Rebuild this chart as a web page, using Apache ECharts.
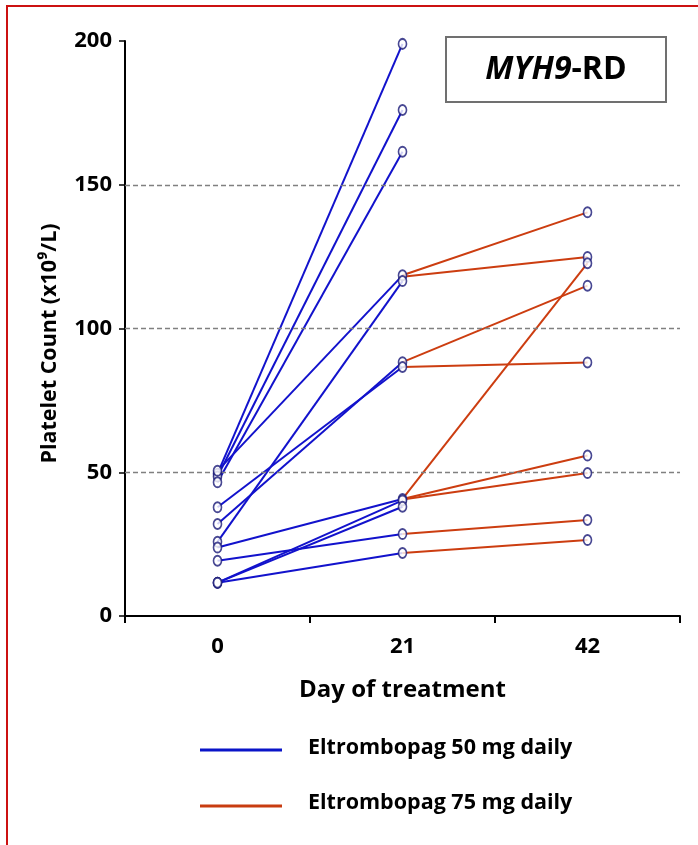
<!DOCTYPE html>
<html>
<head>
<meta charset="utf-8">
<script src="https://cdn.jsdelivr.net/npm/echarts@6/dist/echarts.min.js"></script>
<style>
  html, body { margin: 0; padding: 0; background: #fff; }
  #chart { width: 698px; height: 845px; }
</style>
</head>
<body>
<div id="chart"></div>
<script>
// days on the x axis
var days = ['0', '21', '42'];
var yTicks = [0, 50, 100, 150, 200];
var refLines = [50, 100, 150];

// 50 mg daily: day 0 -> day 21 (one entry per patient)
var dose50Day0 = [49.5, 48.5, 46.5, 50.5, 25.8, 32, 37.8, 23.8, 11.6, 11.6, 19.2, 11.6];
var dose50Day21 = [199, 176, 161.5, 118.5, 116.5, 88.3, 86.6, 40.7, 40.2, 38, 28.5, 21.9];

// 75 mg daily: day 21 -> day 42
var dose75Day21 = [118.5, 118, 88.3, 86.6, 40.7, 40.7, 40.5, 28.5, 21.9];
var dose75Day42 = [140.4, 124.9, 114.9, 88.2, 122.7, 55.8, 49.7, 33.4, 26.4];

var BLUE = '#1212cc';
var ORANGE = '#cc3d10';
var FONT = 'Open Sans';

var series = [];
dose50Day0.forEach(function (v, i) {
    series.push({
        type: 'line', showSymbol: false, silent: true, z: 2,
        lineStyle: { color: BLUE, width: 2 },
        data: [v, dose50Day21[i], '-']
    });
});
dose75Day21.forEach(function (v, i) {
    series.push({
        type: 'line', showSymbol: false, silent: true, z: 2,
        lineStyle: { color: ORANGE, width: 2 },
        data: ['-', v, dose75Day42[i]]
    });
});

// markers on top of the lines
var points = [];
dose50Day0.forEach(function (v) { points.push([0, v]); });
dose50Day21.forEach(function (v) { points.push([1, v]); });
dose75Day42.forEach(function (v) { points.push([2, v]); });
series.push({
    type: 'scatter', z: 5,
    symbol: 'circle', symbolSize: [8, 10],
    itemStyle: { color: '#fff', borderColor: '#1a1a78', borderWidth: 1.8 },
    data: points
});

// dashed reference lines
series[0].markLine = {
    silent: true, symbol: 'none', label: { show: false },
    lineStyle: { color: '#808080', type: [5, 3], width: 1.3 },
    data: refLines.map(function (v) { return { yAxis: v }; })
};

var myChart = echarts.init(document.getElementById('chart'));
var option = {
    animation: false,
    grid: { left: 125, right: 18, top: 41, bottom: 229 },
    xAxis: {
        type: 'category',
        data: days,
        boundaryGap: true,
        name: 'Day of treatment',
        nameLocation: 'middle',
        nameGap: 62,
        nameTextStyle: { fontFamily: FONT, fontWeight: 'bold', fontSize: 24, color: '#000', padding: [0, 0, 0, 0] },
        axisLine: { lineStyle: { color: '#000', width: 2 } },
        axisTick: { show: true, length: 7, lineStyle: { color: '#000', width: 2 } },
        axisLabel: { margin: 20, fontFamily: FONT, fontWeight: 'bold', fontSize: 22, color: '#000' },
        splitLine: { show: false }
    },
    yAxis: {
        type: 'value',
        min: yTicks[0],
        max: yTicks[yTicks.length - 1],
        interval: 50,
        name: 'Platelet Count (x10⁹/L)',
        nameLocation: 'middle',
        nameGap: 64,
        nameTextStyle: { fontFamily: FONT, fontWeight: 'bold', fontSize: 21.5, color: '#000', padding: [0, 30, 0, 0] },
        axisLine: { show: true, lineStyle: { color: '#000', width: 2 } },
        axisTick: { show: true, length: 6, lineStyle: { color: '#000', width: 1.5 } },
        axisLabel: { margin: 13, fontFamily: FONT, fontWeight: 'bold', fontSize: 22, color: '#000' },
        splitLine: { show: false }
    },
    graphic: [
        {
            type: 'rect', z: 0, silent: true,
            shape: { x: 7, y: 6, width: 800, height: 900 },
            style: { fill: 'none', stroke: '#cc1111', lineWidth: 2 }
        },
        {
            type: 'rect', z: 10,
            shape: { x: 446, y: 37, width: 220, height: 65 },
            style: { fill: '#fff', stroke: '#707070', lineWidth: 2 }
        },
        {
            type: 'text', z: 11, x: 556, y: 70,
            style: {
                text: '{i|MYH9}{b|-RD}',
                align: 'center', verticalAlign: 'middle',
                rich: {
                    i: { fontFamily: FONT, fontStyle: 'italic', fontWeight: 'bold', fontSize: 32, fill: '#000' },
                    b: { fontFamily: FONT, fontWeight: 'bold', fontSize: 32, fill: '#000' }
                }
            }
        },
        {
            type: 'line', shape: { x1: 200, y1: 750, x2: 282, y2: 750 },
            style: { stroke: '#0a14c8', lineWidth: 3 }
        },
        {
            type: 'text', x: 308, y: 748,
            style: { text: 'Eltrombopag 50 mg daily', verticalAlign: 'middle', fontFamily: FONT, fontWeight: 'bold', fontSize: 21.5, fill: '#000' }
        },
        {
            type: 'line', shape: { x1: 200, y1: 806, x2: 282, y2: 806 },
            style: { stroke: '#c83c10', lineWidth: 3 }
        },
        {
            type: 'text', x: 308, y: 803,
            style: { text: 'Eltrombopag 75 mg daily', verticalAlign: 'middle', fontFamily: FONT, fontWeight: 'bold', fontSize: 21.5, fill: '#000' }
        }
    ],
    series: series
};
myChart.setOption(option);
</script>
</body>
</html>
